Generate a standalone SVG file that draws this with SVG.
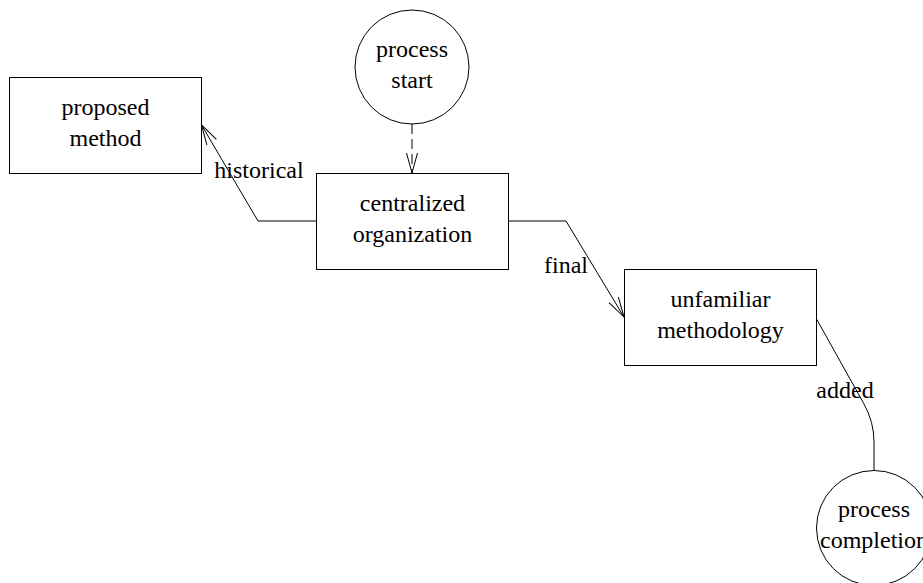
<svg xmlns="http://www.w3.org/2000/svg" width="923" height="583" viewBox="0 0 923 583">
<style>
.n rect, .n circle { fill: #fff; stroke: #000; stroke-width: 1; }
text { font-family: "Liberation Serif", "Times New Roman", serif; font-size: 24px; fill: #000; }
.n text { text-anchor: middle; }
.e path { fill: none; stroke: #000; stroke-width: 1; }
.lbl { text-anchor: middle; }
</style>
<defs>
<marker id="arr" markerUnits="userSpaceOnUse" viewBox="0 -7 22 14" refX="20" refY="0" markerWidth="22" markerHeight="14" orient="auto" overflow="visible">
<path d="M0,-5.5 L20,0 L0,5.5" fill="none" stroke="#000" stroke-width="1"/>
</marker>
</defs>
<rect width="923" height="583" fill="#fff"/>
<g id="edges" class="e">
<path id="e1" d="M412,124 L412,173" stroke-dasharray="10,5" marker-end="url(#arr)"/>
<path id="e2" d="M316,221 L258,221 L201.5,125" marker-end="url(#arr)"/>
<path id="e3" d="M508,221 L566,221 L624,317" marker-end="url(#arr)"/>
<path id="e4" d="M816,318 L864,404 Q874,422 874,442 L874,471"/>
</g>
<g id="edge-labels">
<text class="lbl" x="259" y="178">historical</text>
<text class="lbl" x="566" y="273">final</text>
<text class="lbl" x="845" y="398">added</text>
</g>
<g id="proposed-method" class="n">
<rect x="9.5" y="77.5" width="192" height="96"/>
<text x="105.5" y="115">proposed</text>
<text x="105.5" y="146">method</text>
</g>
<g id="process-start" class="n">
<circle cx="412" cy="67" r="57"/>
<text x="412" y="57">process</text>
<text x="412" y="88">start</text>
</g>
<g id="centralized-organization" class="n">
<rect x="316.5" y="173.5" width="192" height="96"/>
<text x="412.5" y="211">centralized</text>
<text x="412.5" y="242">organization</text>
</g>
<g id="unfamiliar-methodology" class="n">
<rect x="624.5" y="269.5" width="192" height="96"/>
<text x="720.5" y="307">unfamiliar</text>
<text x="720.5" y="338">methodology</text>
</g>
<g id="process-completion" class="n">
<circle cx="874" cy="528" r="57.5"/>
<text x="874" y="517">process</text>
<text x="874" y="548">completion</text>
</g>
</svg>
